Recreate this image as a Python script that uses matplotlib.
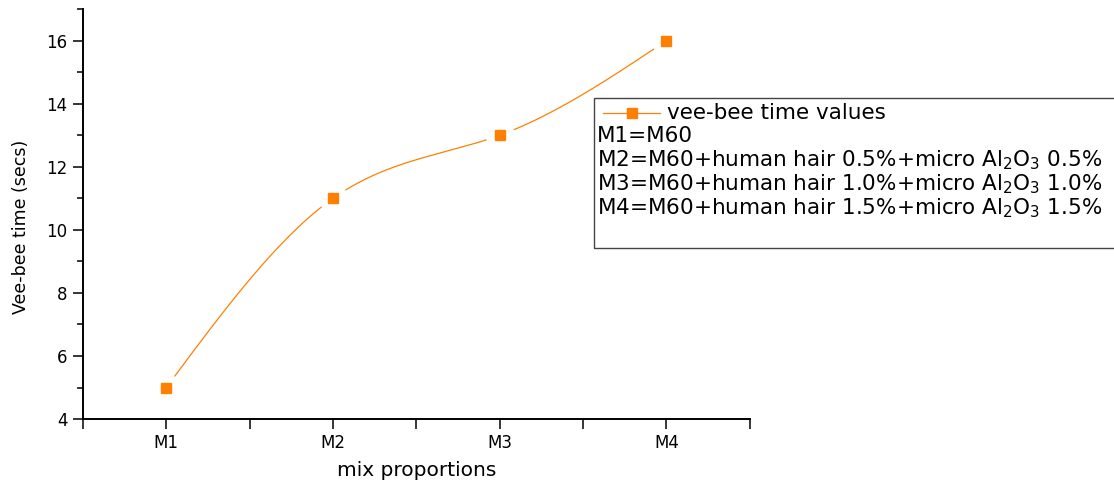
import numpy as np
import matplotlib
matplotlib.use("Agg")
import matplotlib.pyplot as plt
from matplotlib.patches import Rectangle
from matplotlib.lines import Line2D
from matplotlib.ticker import MultipleLocator

mixes = ["M1", "M2", "M3", "M4"]
vee_bee = [5, 11, 13, 16]
legend_lines = [
    "M1=M60",
    r"M2=M60+human hair 0.5%+micro Al$_2$O$_3$ 0.5%",
    r"M3=M60+human hair 1.0%+micro Al$_2$O$_3$ 1.0%",
    r"M4=M60+human hair 1.5%+micro Al$_2$O$_3$ 1.5%",
]

ORANGE = "#ff8000"

plt.rcParams["font.family"] = "DejaVu Sans"
plt.rcParams["mathtext.fontset"] = "dejavusans"


def natural_spline(x, y, n=200):
    # natural cubic spline, only for the smooth look of the connecting line
    x = np.asarray(x, float)
    y = np.asarray(y, float)
    k = len(x)
    h = np.diff(x)
    A = np.zeros((k, k))
    b = np.zeros(k)
    A[0, 0] = A[-1, -1] = 1
    for i in range(1, k - 1):
        A[i, i - 1] = h[i - 1]
        A[i, i] = 2 * (h[i - 1] + h[i])
        A[i, i + 1] = h[i]
        b[i] = 3 * ((y[i + 1] - y[i]) / h[i] - (y[i] - y[i - 1]) / h[i - 1])
    c = np.linalg.solve(A, b)
    xs, ys = [], []
    for i in range(k - 1):
        t = np.linspace(0, h[i], n)
        bi = (y[i + 1] - y[i]) / h[i] - h[i] * (2 * c[i] + c[i + 1]) / 3
        di = (c[i + 1] - c[i]) / (3 * h[i])
        xs.append(x[i] + t)
        ys.append(y[i] + bi * t + c[i] * t ** 2 + di * t ** 3)
    return np.concatenate(xs), np.concatenate(ys)


fig = plt.figure(figsize=(11.14, 4.8), dpi=100)
ax = fig.add_axes([0.0745, 0.127, 0.5985, 0.854])

xpos = np.arange(1, len(mixes) + 1)
sx, sy = natural_spline(xpos, vee_bee)
ax.plot(sx, sy, color=ORANGE, lw=0.9, zorder=2)
ax.plot(xpos, vee_bee, "o", ms=20, color="white", zorder=3)
ax.plot(xpos, vee_bee, "s", ms=7, color=ORANGE, zorder=4)

ax.set_xlim(0.5, 4.5)
ax.set_ylim(4, 17)
ax.set_xticks(xpos)
ax.set_xticklabels(mixes)
ax.xaxis.set_minor_locator(MultipleLocator(0.5))
ax.yaxis.set_major_locator(MultipleLocator(2))
ax.yaxis.set_minor_locator(MultipleLocator(1))
ax.tick_params(which="major", length=7, width=1.1, labelsize=12, pad=4)
ax.tick_params(which="minor", length=7, width=1.1)
ax.tick_params(axis="y", which="minor", length=4.5)
for s in ["top", "right"]:
    ax.spines[s].set_visible(False)
for s in ["left", "bottom"]:
    ax.spines[s].set_linewidth(1.4)

ax.set_xlabel("mix proportions", fontsize=14.5, labelpad=6)
ax.set_ylabel("Vee-bee time (secs)", fontsize=12.5)
ax.yaxis.set_label_coords(-0.079, 0.47)

# legend box, running off the right edge like the original
W, H = 1114, 480
fig.patches.append(Rectangle((594 / W, 1 - 248 / H), 600 / W, 150 / H,
                             transform=fig.transFigure, fill=False,
                             edgecolor="#444444", lw=1.0))
fig.lines.append(Line2D([603 / W, 660 / W], [1 - 113 / H, 1 - 113 / H],
                        transform=fig.transFigure, color=ORANGE, lw=0.9))
fig.lines.append(Line2D([632 / W], [1 - 113 / H], transform=fig.transFigure,
                        marker="s", ms=7, color=ORANGE, lw=0))
fig.text(667 / W, 1 - 113 / H, "vee-bee time values", fontsize=15.5,
         va="center", ha="left")
for i, line in enumerate(legend_lines):
    fig.text(597 / W, 1 - (136 + 24 * i) / H, line, fontsize=15.5,
             va="center", ha="left")

fig.savefig("out.png", dpi=100)
